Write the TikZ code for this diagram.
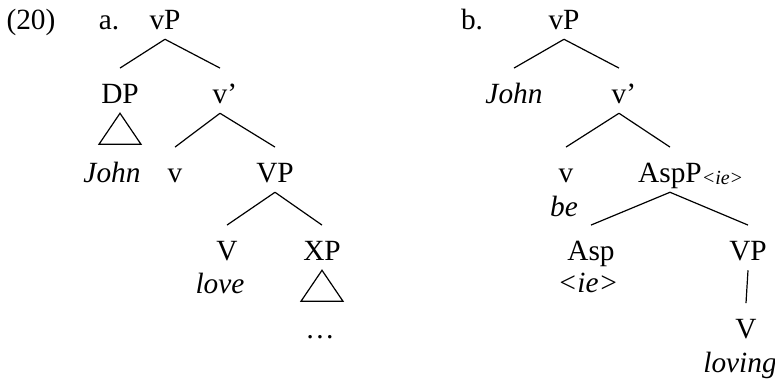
\documentclass[tikz,border=0pt]{standalone}
\usepackage{fontspec}
\setmainfont{Liberation Serif}
\usetikzlibrary{positioning}

\newcommand{\treefont}{\fontsize{22}{26}\selectfont}
\newcommand{\featfont}{\fontsize{15}{18}\selectfont\itshape}

\tikzset{
  lbl/.style={anchor=base, inner sep=0pt, font=\treefont},
  cat/.style={lbl, text height=26pt, text depth=7.5pt},
  lex/.style={lbl, font=\treefont\itshape},
  branch/.style={line width=0.9pt},
}

\begin{document}
\begin{tikzpicture}[x=0.75pt, y=-0.75pt]
  \useasboundingbox (0,0) rectangle (775,383);

  % (a)
  \node[lbl] (exnum) at (31,29) {(20)};
  \node[lbl] (suba) at (109,29) {a.};
  \node[cat] (vPa) at (165,29) {vP};
  \node[cat] (DPa) at (120,103) {DP};
  \node[cat] (vbara) at (220,103) {v\rlap{’}};
  \node[lex] (Johna) at (112,182) {John};
  \node[cat] (va) at (175,182) {v};
  \node[cat] (VPa) at (275,182) {VP};
  \node[cat] (Va) at (227,260) {V};
  \node[cat] (XPa) at (322,260) {XP};
  \node[lex] (lovea) at (220,293) {love};
  \node[lbl] (dotsa) at (320,338) {\ldots};

  \draw[branch] (vPa.south) -- (DPa.north);
  \draw[branch] (vPa.south) -- (vbara.north);
  \draw[branch] (vbara.south) -- (va.north);
  \draw[branch] (vbara.south) -- (VPa.north);
  \draw[branch] (VPa.south) -- (Va.north);
  \draw[branch] (VPa.south) -- (XPa.north);
  \draw[branch] (DPa.south) -- ++(-21,31) -- ++(42,0) -- cycle;
  \draw[branch] (XPa.south) -- ++(-21,31) -- ++(42,0) -- cycle;

  % (b)
  \node[lbl] (subb) at (472,29) {b.};
  \node[cat] (vPb) at (564,29) {vP};
  \node[cat, font=\treefont\itshape] (Johnb) at (514,103) {John};
  \node[cat] (vbarb) at (619,103) {v\rlap{’}};
  \node[cat] (vb) at (566,182) {v};
  \node[cat] (AspPb) at (670,182) {AspP\rlap{\raisebox{-2pt}{\featfont<ie>}}};
  \node[lex] (beb) at (564,216) {be};
  \node[cat] (Aspb) at (591,260) {Asp};
  \node[cat] (VPb) at (748,260) {VP};
  \node[lex] (ieb) at (588,292) {<ie>};
  \node[cat] (Vb) at (746,338) {V};
  \node[lex] (lovingb) at (740,372) {loving};

  \draw[branch] (vPb.south) -- (Johnb.north);
  \draw[branch] (vPb.south) -- (vbarb.north);
  \draw[branch] (vbarb.south) -- (vb.north);
  \draw[branch] (vbarb.south) -- (AspPb.north);
  \draw[branch] (AspPb.south) -- (Aspb.north);
  \draw[branch] (AspPb.south) -- (VPb.north);
  \draw[branch] (VPb.south) -- (Vb.north);
\end{tikzpicture}
\end{document}
